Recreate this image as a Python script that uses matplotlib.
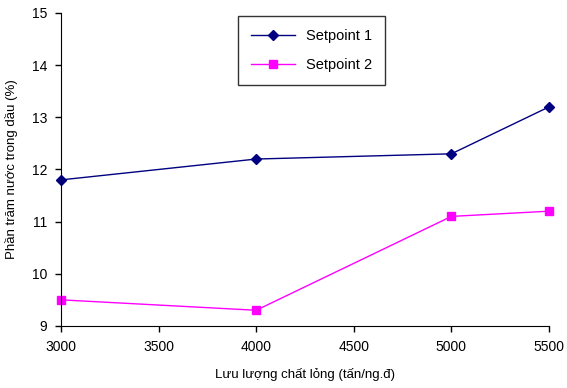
import matplotlib
matplotlib.use("Agg")
import matplotlib.pyplot as plt

plt.rcParams['font.family'] = ['Liberation Sans', 'DejaVu Sans']

# data
flow = [3000, 4000, 5000, 5500]
setpoint1 = [11.8, 12.2, 12.3, 13.2]
setpoint2 = [9.5, 9.3, 11.1, 11.2]
xticks = [3000, 3500, 4000, 4500, 5000, 5500]
yticks = [9, 10, 11, 12, 13, 14, 15]

fig = plt.figure(figsize=(5.67, 3.88), dpi=100)
ax = fig.add_axes([0.1076, 0.160, 0.8607, 0.8065])

ax.plot(flow, setpoint1, color='#000080', marker='D', markersize=5, lw=1, label='Setpoint 1', clip_on=False)
ax.plot(flow, setpoint2, color='#FF00FF', marker='s', markersize=6, lw=1, label='Setpoint 2', clip_on=False)

ax.set_xlim(3000, 5500)
ax.set_ylim(9, 15)
ax.set_xticks(xticks)
ax.set_yticks(yticks)
ax.spines['top'].set_visible(False)
ax.spines['right'].set_visible(False)
ax.tick_params(direction='out', length=4, labelsize=10, width=1, pad=6)
ax.set_xlabel('Lưu lượng chất lỏng (tấn/ng.đ)', fontsize=9.5, labelpad=10)
ax.set_ylabel('Phần trăm nước trong dầu (%)', fontsize=9.5, labelpad=10)

leg = ax.legend(loc='upper left', bbox_to_anchor=(0.356, 1.0), fontsize=10.5,
                frameon=True, fancybox=False, edgecolor='black', borderpad=0.9,
                labelspacing=1.0, handlelength=3.0, borderaxespad=0.2)
leg.get_frame().set_linewidth(1)

fig.savefig('out.png', dpi=100)
